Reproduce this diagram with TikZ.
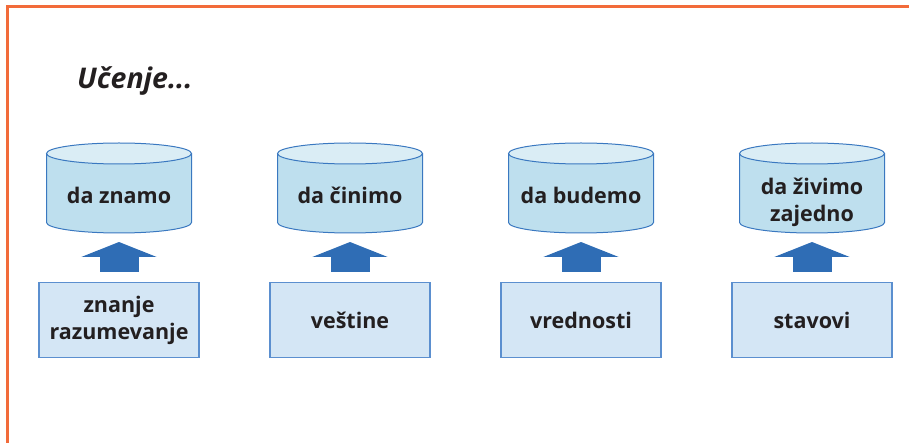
\documentclass[tikz,border=0pt]{standalone}
\usepackage{fontspec}
\setmainfont{Open Sans}[BoldFont={Open Sans Bold},BoldItalicFont={Open Sans Bold Italic}]
\usetikzlibrary{arrows.meta}
\definecolor{frameor}{HTML}{F26B3A}
\definecolor{cylbody}{HTML}{BEDFEE}
\definecolor{cyltop}{HTML}{DAEDF5}
\definecolor{cylline}{HTML}{3A78C0}
\definecolor{boxfill}{HTML}{D4E6F5}
\definecolor{boxline}{HTML}{5B8FCF}
\definecolor{arrowbl}{HTML}{2F6DB5}
\definecolor{txt}{HTML}{231F20}
\tikzset{
  x=1pt,y=-1pt,
  lbl/.style={font=\fontsize{21.5}{27}\selectfont\bfseries, text=txt, align=center, inner sep=0pt},
  infobox/.style={draw=boxline, line width=1.2pt, fill=boxfill, minimum width=160pt, minimum height=75pt, lbl},
  blockarrow/.style={draw=arrowbl, line width=39pt, -{Triangle[width=75pt,length=15pt]}},
}
\newcommand{\mycyl}[4]{% x, name, text, text y
  \fill[cylbody] (#1-72.5,153.5) -- (#1-72.5,222.5) arc[start angle=180,end angle=0,x radius=72.5,y radius=10.5] -- (#1+72.5,153.5) -- cycle;
  \draw[cylline, line width=1pt] (#1-72.5,153.5) -- (#1-72.5,222.5) arc[start angle=180,end angle=0,x radius=72.5,y radius=10.5] -- (#1+72.5,153.5);
  \draw[cylline, line width=1pt, fill=cyltop] (#1,153.5) ellipse[x radius=72.5,y radius=10.5];
  \node[lbl] (#2t) at (#1,#4) {#3};
  \coordinate (#2) at (#1,233);
}
\begin{document}
\begin{tikzpicture}
\useasboundingbox (0,0) rectangle (909,443);
\draw[frameor, line width=2.5pt] (7.3,443) -- (7.3,6.3) -- (909,6.3);
\node[font=\fontsize{28.5}{30}\selectfont\bfseries\itshape, text=txt, anchor=base west, inner sep=0pt] (title) at (77,89) {Učenje...};

\mycyl{119}{c1}{da znamo}{195}
\mycyl{350}{c2}{da činimo}{195}
\mycyl{581}{c3}{da budemo}{195}
\mycyl{812}{c4}{da živimo\\zajedno}{202}

\node[infobox] (b1) at (119,320) {znanje\\razumevanje};
\node[infobox] (b2) at (350,320) {veštine};
\node[infobox] (b3) at (581,320) {vrednosti};
\node[infobox] (b4) at (812,320) {stavovi};

\foreach \i in {1,2,3,4}{
  \draw[blockarrow] ([yshift=10pt]b\i.north) -- ([yshift=-9pt]c\i);
}
\end{tikzpicture}
\end{document}
